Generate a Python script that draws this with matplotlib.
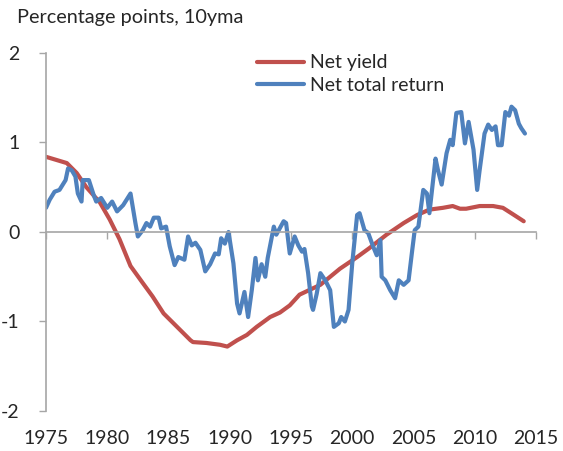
import matplotlib.pyplot as plt

# Net yield (red)
yield_years = [1975.0, 1976.7, 1977.5, 1978.3, 1979.4, 1980.2, 1981.0, 1981.9, 1982.9,
               1983.7, 1984.6, 1985.7, 1986.8, 1987.0, 1988.1, 1989.2, 1989.8, 1990.6,
               1991.4, 1992.2, 1993.3, 1994.1, 1994.9, 1995.7, 1997.4, 1999.0, 2000.4,
               2001.4, 2002.8, 2004.2, 2005.3, 2006.3, 2007.4, 2008.2, 2008.8, 2009.3,
               2010.4, 2011.5, 2012.3, 2013.1, 2014.0]
net_yield = [0.84, 0.77, 0.66, 0.50, 0.33, 0.14, -0.08, -0.38, -0.57,
             -0.72, -0.91, -1.06, -1.21, -1.23, -1.24, -1.26, -1.28, -1.21,
             -1.15, -1.06, -0.95, -0.90, -0.82, -0.70, -0.59, -0.41, -0.28,
             -0.18, -0.03, 0.10, 0.19, 0.25, 0.27, 0.29, 0.26, 0.26,
             0.29, 0.29, 0.27, 0.20, 0.12]

# Net total return (blue)
ret_years = [1975.0, 1975.3, 1975.7, 1976.1, 1976.6, 1976.8, 1977.1, 1977.4, 1977.6, 1977.9,
             1978.0, 1978.5, 1978.9, 1979.1, 1979.5, 1980.0, 1980.4, 1980.8, 1981.3, 1981.9,
             1982.3, 1982.5, 1982.9, 1983.2, 1983.5, 1983.8, 1984.2, 1984.4, 1984.8, 1985.1,
             1985.5, 1985.8, 1986.3, 1986.6, 1986.9, 1987.2, 1987.6, 1988.0, 1988.4, 1988.8,
             1989.1, 1989.3, 1989.6, 1989.9, 1990.3, 1990.6, 1990.8, 1991.2, 1991.5, 1991.8,
             1992.1, 1992.3, 1992.6, 1992.9, 1993.1, 1993.6, 1993.8, 1994.4, 1994.6, 1994.9,
             1995.3, 1995.6, 1995.9, 1996.1, 1996.4, 1996.7, 1996.8, 1997.1, 1997.4, 1997.8,
             1998.2, 1998.5, 1998.9, 1999.1, 1999.4, 1999.7, 2000.0, 2000.4, 2000.6, 2001.0,
             2001.3, 2001.7, 2002.0, 2002.3, 2002.4, 2002.7, 2003.1, 2003.5, 2003.8, 2004.2,
             2004.6, 2004.9, 2005.1, 2005.4, 2005.8, 2006.1, 2006.3, 2006.8, 2007.0, 2007.3,
             2007.7, 2008.0, 2008.2, 2008.5, 2008.9, 2009.2, 2009.5, 2009.9, 2010.2, 2010.4,
             2010.8, 2011.1, 2011.4, 2011.7, 2011.9, 2012.2, 2012.5, 2012.8, 2013.0, 2013.3,
             2013.6, 2013.8, 2014.1]
net_return = [0.27, 0.36, 0.45, 0.47, 0.58, 0.71, 0.69, 0.62, 0.43, 0.34,
              0.58, 0.58, 0.41, 0.34, 0.38, 0.27, 0.34, 0.23, 0.30, 0.43,
              0.10, -0.05, 0.02, 0.10, 0.06, 0.16, 0.16, 0.04, 0.06, -0.16,
              -0.37, -0.28, -0.31, -0.05, -0.15, -0.12, -0.20, -0.44, -0.36, -0.24,
              -0.25, -0.07, -0.13, 0.00, -0.35, -0.80, -0.91, -0.67, -0.95, -0.65,
              -0.29, -0.54, -0.36, -0.50, -0.29, 0.06, -0.03, 0.12, 0.10, -0.24,
              -0.05, -0.15, -0.22, -0.19, -0.46, -0.83, -0.87, -0.69, -0.46, -0.54,
              -0.65, -1.06, -1.02, -0.95, -1.00, -0.87, -0.35, 0.19, 0.21, 0.02,
              -0.01, -0.16, -0.26, -0.09, -0.50, -0.54, -0.65, -0.74, -0.54, -0.59,
              -0.54, -0.20, 0.02, 0.06, 0.47, 0.43, 0.21, 0.82, 0.69, 0.53,
              0.88, 1.03, 0.97, 1.33, 1.34, 0.99, 1.23, 0.92, 0.47, 0.69,
              1.10, 1.20, 1.14, 1.18, 0.97, 0.97, 1.34, 1.30, 1.40, 1.36,
              1.21, 1.16, 1.10]

x_ticks = [1975, 1980, 1985, 1990, 1995, 2000, 2005, 2010, 2015]
y_ticks = [-2, -1, 0, 1, 2]

plt.rcParams['font.family'] = ['Lato', 'DejaVu Sans']
plt.rcParams['axes.unicode_minus'] = False

fig = plt.figure(figsize=(5.63, 4.51), dpi=100)
ax = fig.add_axes([0.0817, 0.0887, 0.8703, 0.7938])

ax.plot(yield_years, net_yield, color='#C0504D', lw=3, label='Net yield', solid_capstyle='round')
ax.plot(ret_years, net_return, color='#4F81BD', lw=3, label='Net total return', solid_capstyle='round')

ax.set_xlim(1975, 2015)
ax.set_ylim(-2, 2)
ax.set_yticks(y_ticks)
ax.set_xticks(x_ticks)
ax.set_xticklabels([])

for s in ['top', 'right']:
    ax.spines[s].set_visible(False)
ax.spines['bottom'].set_position(('data', 0))
ax.spines['bottom'].set_color('#A6A6A6')
ax.spines['left'].set_color('#A6A6A6')
ax.spines['bottom'].set_linewidth(1.2)
ax.spines['left'].set_linewidth(1.2)
ax.tick_params(axis='y', colors='#A6A6A6', length=5, width=1, labelcolor='#262626',
               labelsize=14, pad=14)
ax.tick_params(axis='x', colors='#A6A6A6', length=5, width=1)

# year labels sit in a row under the plot, not on the zero line
for yr in x_ticks:
    ax.annotate(str(yr), xy=(yr, 1 - 438 / 451), xycoords=('data', 'figure fraction'),
                ha='center', va='center', fontsize=14, color='#262626')

fig.text(17 / 563, 1 - 18 / 451, 'Percentage points, 10yma', fontsize=14.3,
         color='#262626', va='center', ha='left')

leg = ax.legend(loc='upper left', bbox_to_anchor=(0.395, 1.045), frameon=False,
                fontsize=14, handlelength=2.4, handletextpad=0.3, labelspacing=0.3)
for txt in leg.get_texts():
    txt.set_color('#262626')

fig.savefig('out.png', dpi=100)
